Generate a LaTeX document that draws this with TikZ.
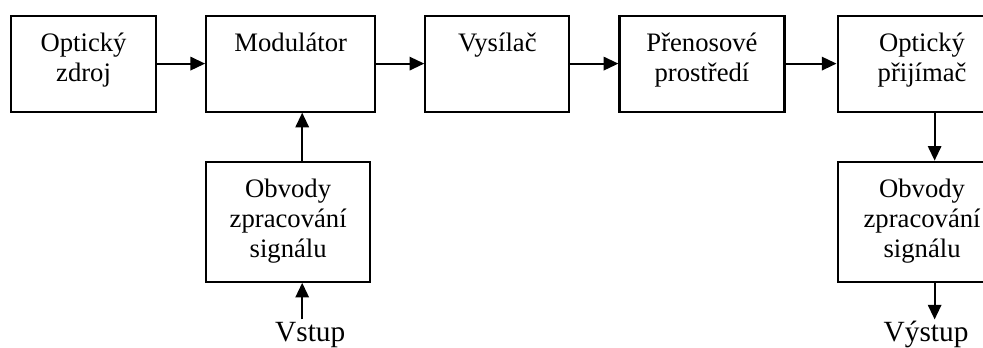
\documentclass[tikz,border=0pt]{standalone}
\usepackage{fontspec}
\setmainfont{Liberation Serif}
\usetikzlibrary{chains,positioning,arrows.meta}

\begin{document}
\begin{tikzpicture}[
blk/.style={
  draw,
  line width=1.6pt,
  minimum height=72pt,
  inner sep=0pt,
  label={[txt]north:#1}
},
txt/.style={
  anchor=north,
  yshift=-13.3pt,
  align=center,
  inner sep=0pt,
  font=\fontsize{20}{22.5}\selectfont
},
arr/.style={
  line width=1.6pt,
  -{Triangle[length=11pt,width=10pt]}
},
io/.style={
  inner sep=1.5pt,
  text height=14.6pt,
  text depth=4.8pt,
  font=\fontsize{22}{24}\selectfont
},
start chain=1 going right,node distance=36pt
]
\clip (0,0) rectangle (737.25pt,-260.25pt);

% top row
\node[on chain=1,blk={Optický\\zdroj},minimum width=108.75pt,anchor=north west]
  (src) at (7.5pt,-10.9pt) {};
\node[on chain=1,join=by arr,blk=Modulátor,minimum width=126.75pt]
  (mod) {};
\node[on chain=1,join=by arr,blk=Vysílač,minimum width=108pt]
  (tx) {};
\node[on chain=1,join=by arr,blk={Přenosové\\prostředí},minimum width=123.75pt]
  (med) {};
\node[on chain=1,join=by arr,blk={Optický\\přijímač},minimum width=126.75pt,xshift=2.25pt]
  (rx) {};

% signal processing
\node[blk={Obvody\\zpracování\\signálu},minimum width=123pt,minimum height=90pt,
  below=36pt of mod.south west,anchor=north west] (sig1) {};
\node[blk={Obvody\\zpracování\\signálu},minimum width=126.75pt,minimum height=90pt,
  below=36pt of rx.south west,anchor=north west] (sig2) {};

\node[io,below=27.5pt of sig1.south,xshift=16.5pt] (in) {Vstup};
\node[io,below=27.5pt of sig2.south,xshift=3pt] (out) {Výstup};

\draw[arr] ([xshift=10.5pt]sig1.north) -- ([xshift=10.5pt]sig1.north |- mod.south);
\draw[arr] ([xshift=10.5pt]sig1.south |- in.north) -- ([xshift=10.5pt]sig1.south);
\draw[arr] ([xshift=9.4pt]rx.south) -- ([xshift=9.4pt]rx.south |- sig2.north);
\draw[arr] ([xshift=9.4pt]rx.south |- sig2.south) -- ([xshift=9.4pt]rx.south |- out.north);
\end{tikzpicture}
\end{document}
